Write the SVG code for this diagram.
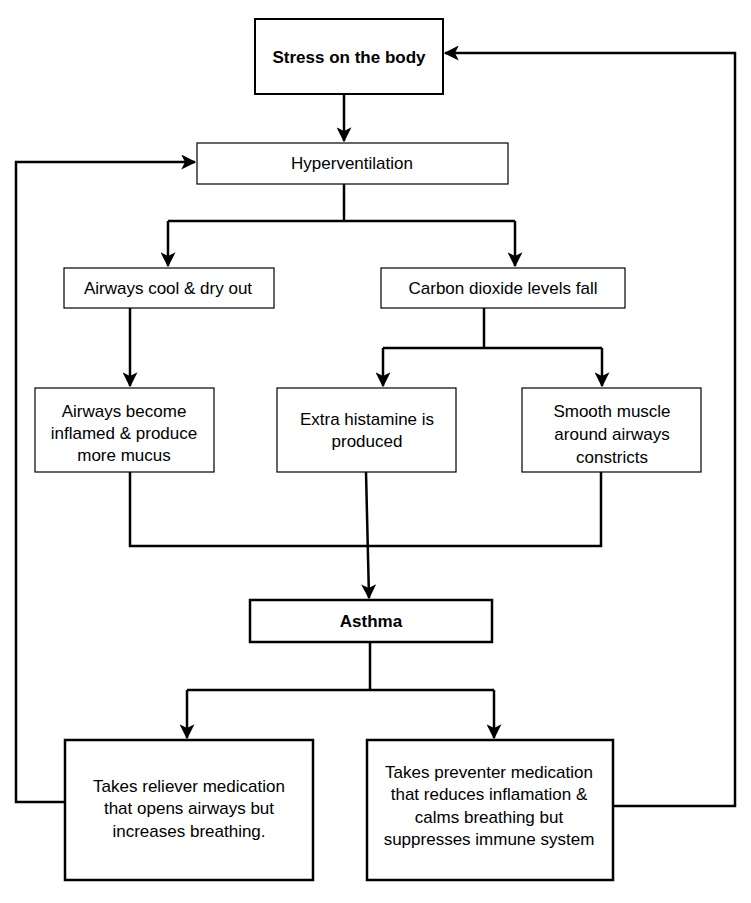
<svg xmlns="http://www.w3.org/2000/svg" width="751" height="903" viewBox="0 0 751 903">
<defs>
<style>
.box{fill:#fff;stroke:#000;}
.thin{stroke-width:1.2;}
.thick{stroke-width:2.5;}
.t{font-family:"Liberation Sans",Arial,sans-serif;font-size:17px;fill:#000;text-anchor:middle;}
.b{font-weight:bold;}
.c{fill:none;stroke:#000;stroke-width:2.5;}
</style>
<marker id="ah" viewBox="0 0 12 12" refX="11" refY="6" markerWidth="6" markerHeight="6" markerUnits="strokeWidth" orient="auto">
<path d="M0,0 L12,6 L0,12 L3,6 Z" fill="#000"/>
</marker>
</defs>
<rect width="751" height="903" fill="#fff"/>
<g id="connectors">
<path class="c" d="M344,94 V141" marker-end="url(#ah)"/>
<path class="c" d="M344,184 V221"/>
<path class="c" d="M168,221 H515"/>
<path class="c" d="M168,221 V266" marker-end="url(#ah)"/>
<path class="c" d="M515,221 V266" marker-end="url(#ah)"/>
<path class="c" d="M130,308 V386" marker-end="url(#ah)"/>
<path class="c" d="M484,308 V348"/>
<path class="c" d="M383,348 H602"/>
<path class="c" d="M383,348 V386" marker-end="url(#ah)"/>
<path class="c" d="M602,348 V386" marker-end="url(#ah)"/>
<path class="c" d="M130,472 V546 H601 V472"/>
<path class="c" d="M366,472 L369,598" marker-end="url(#ah)"/>
<path class="c" d="M370,642 V690"/>
<path class="c" d="M187,690 H494"/>
<path class="c" d="M187,690 V738" marker-end="url(#ah)"/>
<path class="c" d="M494,690 V738" marker-end="url(#ah)"/>
<path class="c" d="M65,802 H16 V162 H195" marker-end="url(#ah)"/>
<path class="c" d="M613,806 H735 V53 H445" marker-end="url(#ah)"/>
</g>
<g id="stress">
<rect class="box" x="255" y="19" width="188" height="75" stroke-width="2"/>
<text class="t b" x="349" y="63">Stress on the body</text>
</g>
<g id="hyper">
<rect class="box thin" x="197" y="143" width="311" height="41"/>
<text class="t" x="352" y="169">Hyperventilation</text>
</g>
<g id="cool">
<rect class="box thin" x="64" y="268" width="210" height="40"/>
<text class="t" x="168" y="294">Airways cool &amp; dry out</text>
</g>
<g id="co2">
<rect class="box thin" x="381" y="268" width="244" height="40"/>
<text class="t" x="503" y="294">Carbon dioxide levels fall</text>
</g>
<g id="inflamed">
<rect class="box thin" x="35" y="388" width="179" height="84"/>
<text class="t" x="124" y="417">Airways become</text>
<text class="t" x="124" y="439">inflamed &amp; produce</text>
<text class="t" x="124" y="461">more mucus</text>
</g>
<g id="histamine">
<rect class="box thin" x="277" y="388" width="179" height="84"/>
<text class="t" x="367" y="425">Extra histamine is</text>
<text class="t" x="367" y="447">produced</text>
</g>
<g id="muscle">
<rect class="box thin" x="522" y="388" width="179" height="84"/>
<text class="t" x="612" y="417">Smooth muscle</text>
<text class="t" x="612" y="440">around airways</text>
<text class="t" x="612" y="463">constricts</text>
</g>
<g id="asthma">
<rect class="box thick" x="250" y="600" width="242" height="42"/>
<text class="t b" x="371" y="627">Asthma</text>
</g>
<g id="reliever">
<rect class="box thick" x="65" y="740" width="248" height="140"/>
<text class="t" x="189" y="792">Takes reliever medication</text>
<text class="t" x="189" y="814">that opens airways but</text>
<text class="t" x="189" y="837">increases breathing.</text>
</g>
<g id="preventer">
<rect class="box thick" x="367" y="740" width="246" height="140"/>
<text class="t" x="489" y="778">Takes preventer medication</text>
<text class="t" x="489" y="800">that reduces inflamation &amp;</text>
<text class="t" x="489" y="823">calms breathing but</text>
<text class="t" x="489" y="845">suppresses immune system</text>
</g>
</svg>
